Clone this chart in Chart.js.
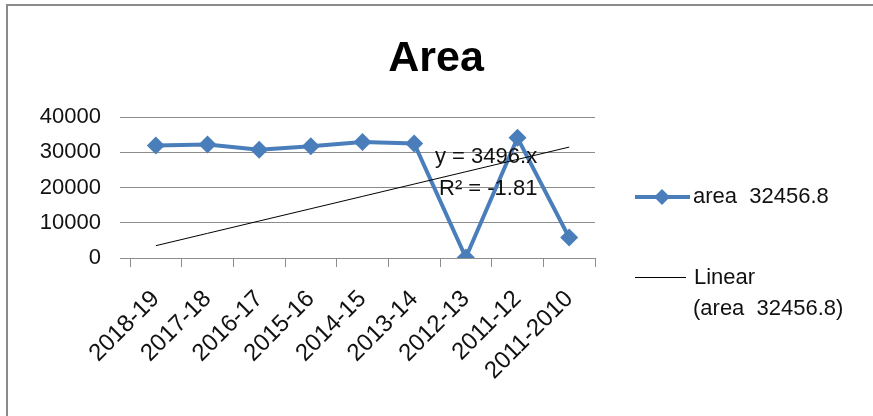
<!DOCTYPE html>
<html>
<head>
<meta charset="utf-8">
<script src="https://cdn.jsdelivr.net/npm/chart.js@4.4.1/dist/chart.umd.min.js"></script>
<style>
    html, body { margin: 0; padding: 0; background: #fff; }
    #frame {
        position: absolute; left: 6px; top: 4px; right: 0; bottom: 0;
        border-left: 2px solid #8a8a8a; border-top: 2px solid #8a8a8a;
    }
    #wrap { position: absolute; left: 0; top: 0; width: 873px; height: 416px; }
</style>
</head>
<body>
<div id="frame"></div>
<div id="wrap"><canvas id="areaChart" width="873" height="416"></canvas></div>
<script>
// yearly area figures, newest first
const years = ["2018-19", "2017-18", "2016-17", "2015-16", "2014-15", "2013-14", "2012-13", "2011-12", "2011-2010"];
const area = [31900, 32200, 30700, 31700, 32900, 32500, 150, 34100, 5800];
const slope = 3496;
const trend = years.map((y, i) => slope * (i + 1));
const yTicks = [0, 10000, 20000, 30000, 40000];
const seriesName = "area  32456.8";

const FONT = "'Liberation Sans', Arial, sans-serif";
const BLUE = "#4a7ebb";

// title, legend and trend equation are drawn by hand (page-centred title, multi-line entry)
const extras = {
    id: 'extras',
    afterDraw(chart) {
        const ctx = chart.ctx;
        ctx.save();
        ctx.fillStyle = "#000";
        ctx.textAlign = "center";
        ctx.textBaseline = "middle";
        ctx.font = "bold 43px " + FONT;
        ctx.fillText("Area", 436, 59);

        ctx.font = "22px " + FONT;
        ctx.fillStyle = "#111";
        ctx.textAlign = "left";

        // trendline equation
        ctx.fillText("y = " + slope + ".x", 435, 157);
        ctx.fillText("R² = -1.81", 439, 189);

        // series entry
        ctx.strokeStyle = BLUE;
        ctx.lineWidth = 4;
        ctx.beginPath();
        ctx.moveTo(635, 197);
        ctx.lineTo(690, 197);
        ctx.stroke();
        ctx.fillStyle = BLUE;
        ctx.beginPath();
        ctx.moveTo(662, 189);
        ctx.lineTo(670, 197);
        ctx.lineTo(662, 205);
        ctx.lineTo(654, 197);
        ctx.closePath();
        ctx.fill();
        ctx.fillStyle = "#111";
        ctx.fillText(seriesName, 693, 197);

        // trend entry
        ctx.strokeStyle = "#000";
        ctx.lineWidth = 1;
        ctx.beginPath();
        ctx.moveTo(635, 277.5);
        ctx.lineTo(686, 277.5);
        ctx.stroke();
        ctx.fillText("Linear", 694, 278);
        ctx.fillText("(" + seriesName + ")", 693, 309);
        ctx.restore();
    }
};

new Chart(document.getElementById("areaChart"), {
    type: 'line',
    data: {
        labels: years,
        datasets: [{
            label: seriesName,
            data: area,
            borderColor: BLUE,
            backgroundColor: BLUE,
            borderWidth: 4,
            pointStyle: 'rectRot',
            pointRadius: 9,
            pointBorderWidth: 0,
            tension: 0,
            order: 1
        }, {
            label: "Linear (" + seriesName + ")",
            data: trend,
            borderColor: "#000",
            borderWidth: 1,
            pointRadius: 0,
            order: 0
        }]
    },
    options: {
        responsive: false,
        animation: false,
        layout: { padding: { left: 10, right: 278, top: 117, bottom: 0 } },
        plugins: {
            legend: { display: false },
            tooltip: { enabled: false },
            title: { display: false }
        },
        scales: {
            x: {
                offset: true,
                grid: {
                    offset: true,
                    drawOnChartArea: false,
                    color: "#8c8c8c",
                    tickLength: 9
                },
                border: { color: "#8c8c8c", width: 1 },
                ticks: {
                    color: "#111",
                    font: { family: FONT, size: 24 },
                    minRotation: 45,
                    maxRotation: 45,
                    autoSkip: false,
                    padding: 18
                },
                afterFit(scale) { scale.height = 158; }
            },
            y: {
                min: 0,
                max: 40000,
                afterBuildTicks(scale) { scale.ticks = yTicks.map(v => ({ value: v })); },
                grid: { color: "#8c8c8c", tickLength: 10 },
                border: { display: false },
                ticks: {
                    color: "#111",
                    font: { family: FONT, size: 22 },
                    padding: 19,
                    callback: v => String(v)
                },
                afterFit(scale) { scale.width = 120; }
            }
        }
    },
    plugins: [extras]
});
</script>
</body>
</html>
